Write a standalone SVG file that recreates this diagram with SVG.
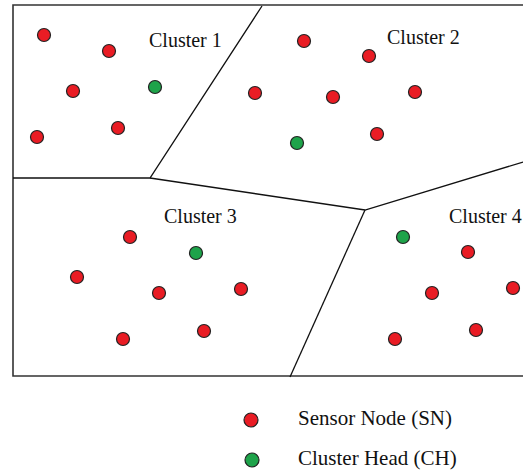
<svg xmlns="http://www.w3.org/2000/svg" width="523" height="475" viewBox="0 0 523 475">
<style>
.sn{fill:#e91c24;stroke:#222;stroke-width:1.2}
.ch{fill:#1ea34a;stroke:#222;stroke-width:1.2}
.ln{stroke:#111;stroke-width:1.3;fill:none}
.fr{stroke:#333;stroke-width:1.6;fill:none}
.t{font-family:"Liberation Serif","Times New Roman",serif;font-size:20px;fill:#111}
.lg{font-family:"Liberation Serif","Times New Roman",serif;font-size:21px;fill:#111}
</style>
<rect width="523" height="475" fill="#fff"/>
<g id="connectors">
<path class="fr" d="M524,5 H13 V376 H524"/>
<path class="ln" d="M13,178 H150 L262,6"/>
<path class="ln" d="M150,178 L365,210 L523,162"/>
<path class="ln" d="M365,210 L290,377"/>
</g>
<g id="cluster1">
<text class="t" x="149" y="47">Cluster 1</text>
<circle class="sn" cx="44" cy="35" r="6.5"/>
<circle class="sn" cx="109" cy="51" r="6.5"/>
<circle class="sn" cx="73" cy="91" r="6.5"/>
<circle class="ch" cx="155" cy="87" r="6.5"/>
<circle class="sn" cx="37" cy="137" r="6.5"/>
<circle class="sn" cx="118" cy="128" r="6.5"/>
</g>
<g id="cluster2">
<text class="t" x="387" y="44">Cluster 2</text>
<circle class="sn" cx="304" cy="41" r="6.5"/>
<circle class="sn" cx="369" cy="56" r="6.5"/>
<circle class="sn" cx="255" cy="93" r="6.5"/>
<circle class="sn" cx="333" cy="97" r="6.5"/>
<circle class="sn" cx="415" cy="92" r="6.5"/>
<circle class="sn" cx="377" cy="134" r="6.5"/>
<circle class="ch" cx="297" cy="143" r="6.5"/>
</g>
<g id="cluster3">
<text class="t" x="164" y="223">Cluster 3</text>
<circle class="sn" cx="130" cy="237" r="6.5"/>
<circle class="ch" cx="196" cy="253" r="6.5"/>
<circle class="sn" cx="77" cy="277" r="6.5"/>
<circle class="sn" cx="159" cy="293" r="6.5"/>
<circle class="sn" cx="241" cy="289" r="6.5"/>
<circle class="sn" cx="123" cy="339" r="6.5"/>
<circle class="sn" cx="204" cy="331" r="6.5"/>
</g>
<g id="cluster4">
<text class="t" x="449" y="223">Cluster 4</text>
<circle class="ch" cx="403" cy="237" r="6.5"/>
<circle class="sn" cx="468" cy="252" r="6.5"/>
<circle class="sn" cx="432" cy="293" r="6.5"/>
<circle class="sn" cx="513" cy="288" r="6.5"/>
<circle class="sn" cx="395" cy="339" r="6.5"/>
<circle class="sn" cx="476" cy="330" r="6.5"/>
</g>
<g id="legend">
<circle class="sn" cx="251" cy="420" r="7"/>
<text class="lg" x="298" y="425">Sensor Node (SN)</text>
<circle class="ch" cx="252" cy="460" r="7"/>
<text class="lg" x="298" y="465">Cluster Head (CH)</text>
</g>
</svg>
